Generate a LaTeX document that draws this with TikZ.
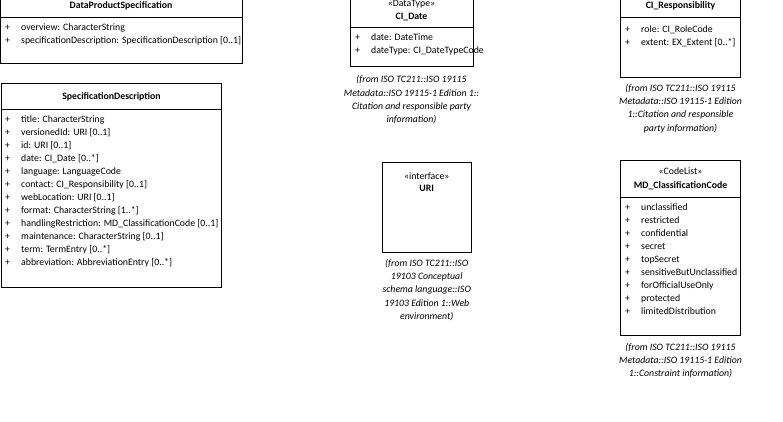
\documentclass[tikz,border=0pt]{standalone}
\usepackage{fontspec}
\setmainfont{Carlito}

\newcommand{\plus}{\makebox[16pt][l]{+}}

\begin{document}
\begin{tikzpicture}[x=1pt,y=-1pt,
  every node/.style={font=\fontsize{9.8}{13}\selectfont, inner sep=0pt},
  umlbox/.style={draw, line width=1pt},
  cname/.style={font=\fontsize{9.8}{13}\selectfont\bfseries, text height=7pt, text depth=2pt},
  stereo/.style={text height=7pt, text depth=2pt},
  attr/.style={anchor=west, text height=7pt, text depth=2pt},
  note/.style={anchor=north, align=center, font=\fontsize{9.8}{13.3}\selectfont\itshape}]
  \useasboundingbox (0,0) rectangle (783,421);

  % DataProductSpecification
  \draw[umlbox] (0.5,-5) rectangle (242,63);
  \draw[umlbox] (0.5,17) -- (242,17);
  \node[cname] (dps) at (121,6) {DataProductSpecification};
  \node[attr] (dps1) at (5,28) {\plus overview: CharacterString};
  \node[attr] (dps2) at (5,41) {\plus specificationDescription: SpecificationDescription [0..1]};

  % SpecificationDescription
  \draw[umlbox] (1.5,83) rectangle (221.5,287.5);
  \draw[umlbox] (1.5,109) -- (221.5,109);
  \node[cname] (sd) at (111.5,97) {SpecificationDescription};
  \node[attr] (sd1) at (5,119.5) {\plus title: CharacterString};
  \node[attr] (sd2) at (5,132.5) {\plus versionedId: URI [0..1]};
  \node[attr] (sd3) at (5,145.5) {\plus id: URI [0..1]};
  \node[attr] (sd4) at (5,158.5) {\plus date: CI\_Date [0..*]};
  \node[attr] (sd5) at (5,171.5) {\plus language: LanguageCode};
  \node[attr] (sd6) at (5,184.5) {\plus contact: CI\_Responsibility [0..1]};
  \node[attr] (sd7) at (5,197.5) {\plus webLocation: URI [0..1]};
  \node[attr] (sd8) at (5,210.5) {\plus format: CharacterString [1..*]};
  \node[attr] (sd9) at (5,223.5) {\plus handlingRestriction: MD\_ClassificationCode [0..1]};
  \node[attr] (sd10) at (5,236.5) {\plus maintenance: CharacterString [0..1]};
  \node[attr] (sd11) at (5,249.5) {\plus term: TermEntry [0..*]};
  \node[attr] (sd12) at (5,262.5) {\plus abbreviation: AbbreviationEntry [0..*]};

  % CI_Date
  \draw[umlbox] (350,-5) rectangle (473,66);
  \draw[umlbox] (350,27.5) -- (473,27.5);
  \node[stereo] (cidst) at (411.5,4) {«DataType»};
  \node[cname] (cid) at (411.5,17) {CI\_Date};
  \node[attr] (cid1) at (355,37.5) {\plus date: DateTime};
  \node[attr] (cid2) at (355,50.5) {\plus dateType: CI\_DateTypeCode};
  \node[note] (cidnote) at (411.5,75.5) {(from ISO TC211::ISO 19115\\Metadata::ISO 19115-1 Edition 1::\\Citation and responsible party\\information)};

  % CI_Responsibility
  \draw[umlbox] (620.5,-5) rectangle (740.5,77);
  \draw[umlbox] (620.5,17) -- (740.5,17);
  \node[cname] (cir) at (680.5,6) {CI\_Responsibility};
  \node[attr] (cir1) at (625,29.5) {\plus role: CI\_RoleCode};
  \node[attr] (cir2) at (625,42.5) {\plus extent: EX\_Extent [0..*]};
  \node[note] (cirnote) at (680.5,84) {(from ISO TC211::ISO 19115\\Metadata::ISO 19115-1 Edition\\1::Citation and responsible\\party information)};

  % URI
  \draw[umlbox] (382.5,162.5) rectangle (471,252.5);
  \node[stereo] (urist) at (426.75,176.5) {«interface»};
  \node[cname] (uri) at (426.75,188.5) {URI};
  \node[note] (urinote) at (426.75,259) {(from ISO TC211::ISO\\19103 Conceptual\\schema language::ISO\\19103 Edition 1::Web\\environment)};

  % MD_ClassificationCode
  \draw[umlbox] (620.5,160) rectangle (740.5,335.5);
  \draw[umlbox] (620.5,197.5) -- (740.5,197.5);
  \node[stereo] (mdst) at (680.5,172) {«CodeList»};
  \node[cname] (md) at (680.5,186) {MD\_ClassificationCode};
  \node[attr] (md1) at (625,207.5) {\plus unclassified};
  \node[attr] (md2) at (625,220.5) {\plus restricted};
  \node[attr] (md3) at (625,233.5) {\plus confidential};
  \node[attr] (md4) at (625,246.5) {\plus secret};
  \node[attr] (md5) at (625,259.5) {\plus topSecret};
  \node[attr] (md6) at (625,272.5) {\plus sensitiveButUnclassified};
  \node[attr] (md7) at (625,285.5) {\plus forOfficialUseOnly};
  \node[attr] (md8) at (625,298.5) {\plus protected};
  \node[attr] (md9) at (625,311.5) {\plus limitedDistribution};
  \node[note] (mdnote) at (680.5,343) {(from ISO TC211::ISO 19115\\Metadata::ISO 19115-1 Edition\\1::Constraint information)};
\end{tikzpicture}
\end{document}
